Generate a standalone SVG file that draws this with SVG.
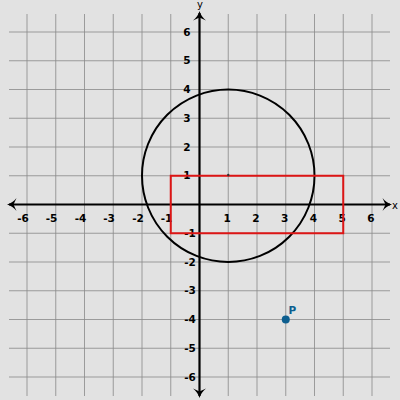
<svg xmlns="http://www.w3.org/2000/svg" xmlns:xlink="http://www.w3.org/1999/xlink" width="400" height="400" viewBox="0 0 400 400">
<style>
.grid line{stroke:#8a8a8a;stroke-width:1;stroke-opacity:0.8}
.axis{stroke:#000;stroke-width:2.2;fill:none}
.ah{fill:#000}
.tl{font-family:"DejaVu Sans",sans-serif;font-weight:bold;font-size:10.5px;fill:#000}
.al{font-family:"DejaVu Sans",sans-serif;font-size:10px;fill:#000}
</style>
<defs>
<path id="ah" d="M0,0 C-4,1 -7,3.5 -9.5,6.5 L-6.5,0 L-9.5,-6.5 C-7,-3.5 -4,-1 0,0 Z"/>
</defs>
<rect width="400" height="400" fill="#e2e2e2"/>
<g class="grid">
<line x1="27" y1="14" x2="27" y2="396"/>
<line x1="55.75" y1="14" x2="55.75" y2="396"/>
<line x1="84.5" y1="14" x2="84.5" y2="396"/>
<line x1="113.25" y1="14" x2="113.25" y2="396"/>
<line x1="142" y1="14" x2="142" y2="396"/>
<line x1="170.75" y1="14" x2="170.75" y2="396"/>
<line x1="228.25" y1="14" x2="228.25" y2="396"/>
<line x1="257" y1="14" x2="257" y2="396"/>
<line x1="285.75" y1="14" x2="285.75" y2="396"/>
<line x1="314.5" y1="14" x2="314.5" y2="396"/>
<line x1="343.25" y1="14" x2="343.25" y2="396"/>
<line x1="372" y1="14" x2="372" y2="396"/>
<line x1="9" y1="32" x2="390" y2="32"/>
<line x1="9" y1="60.75" x2="390" y2="60.75"/>
<line x1="9" y1="89.5" x2="390" y2="89.5"/>
<line x1="9" y1="118.25" x2="390" y2="118.25"/>
<line x1="9" y1="147" x2="390" y2="147"/>
<line x1="9" y1="175.75" x2="390" y2="175.75"/>
<line x1="9" y1="233.25" x2="390" y2="233.25"/>
<line x1="9" y1="262" x2="390" y2="262"/>
<line x1="9" y1="290.75" x2="390" y2="290.75"/>
<line x1="9" y1="319.5" x2="390" y2="319.5"/>
<line x1="9" y1="348.25" x2="390" y2="348.25"/>
<line x1="9" y1="377" x2="390" y2="377"/>
</g>
<g id="axes">
<line class="axis" x1="9" y1="204.5" x2="390" y2="204.5"/>
<line class="axis" x1="199.5" y1="13" x2="199.5" y2="396"/>
<use class="ah" xlink:href="#ah" transform="translate(392,204.5)"/>
<use class="ah" xlink:href="#ah" transform="translate(7,204.5) rotate(180)"/>
<use class="ah" xlink:href="#ah" transform="translate(199.5,11) rotate(-90)"/>
<use class="ah" xlink:href="#ah" transform="translate(199.5,398) rotate(90)"/>
<text class="al" x="395" y="208.5" text-anchor="middle">x</text>
<text class="al" x="200" y="8" text-anchor="middle">y</text>
</g>
<g id="xlabels" class="tl" text-anchor="middle">
<text x="23" y="222">-6</text>
<text x="51.5" y="222">-5</text>
<text x="80.5" y="222">-4</text>
<text x="109" y="222">-3</text>
<text x="138" y="222">-2</text>
<text x="166.5" y="222">-1</text>
<text x="227.25" y="222">1</text>
<text x="256" y="222">2</text>
<text x="284.75" y="222">3</text>
<text x="313.5" y="222">4</text>
<text x="342.25" y="222">5</text>
<text x="371" y="222">6</text>
</g>
<g id="ylabels" class="tl" text-anchor="middle">
<text x="187" y="35.5">6</text>
<text x="187" y="64.25">5</text>
<text x="187" y="93">4</text>
<text x="187" y="121.75">3</text>
<text x="187" y="150.5">2</text>
<text x="187" y="179.25">1</text>
<text x="190" y="236.75">-1</text>
<text x="190" y="265.5">-2</text>
<text x="190" y="294.25">-3</text>
<text x="190" y="323">-4</text>
<text x="190" y="351.75">-5</text>
<text x="190" y="380.5">-6</text>
</g>
<g id="circle">
<circle cx="228.25" cy="175.75" r="86.25" fill="none" stroke="#000" stroke-width="2"/>
</g>
<g id="rectangle">
<rect x="170.75" y="175.75" width="172.5" height="57.5" fill="none" stroke="#dd1515" stroke-width="2"/>
</g>
<g id="center">
<circle cx="228.25" cy="175" r="1.2" fill="#333"/>
</g>
<g id="pointP">
<circle cx="285.75" cy="319.5" r="4" fill="#0d5e8f"/>
<text x="288.5" y="314" font-family="DejaVu Sans, sans-serif" font-weight="bold" font-size="10.5" fill="#0d5e8f">P</text>
</g>
</svg>
